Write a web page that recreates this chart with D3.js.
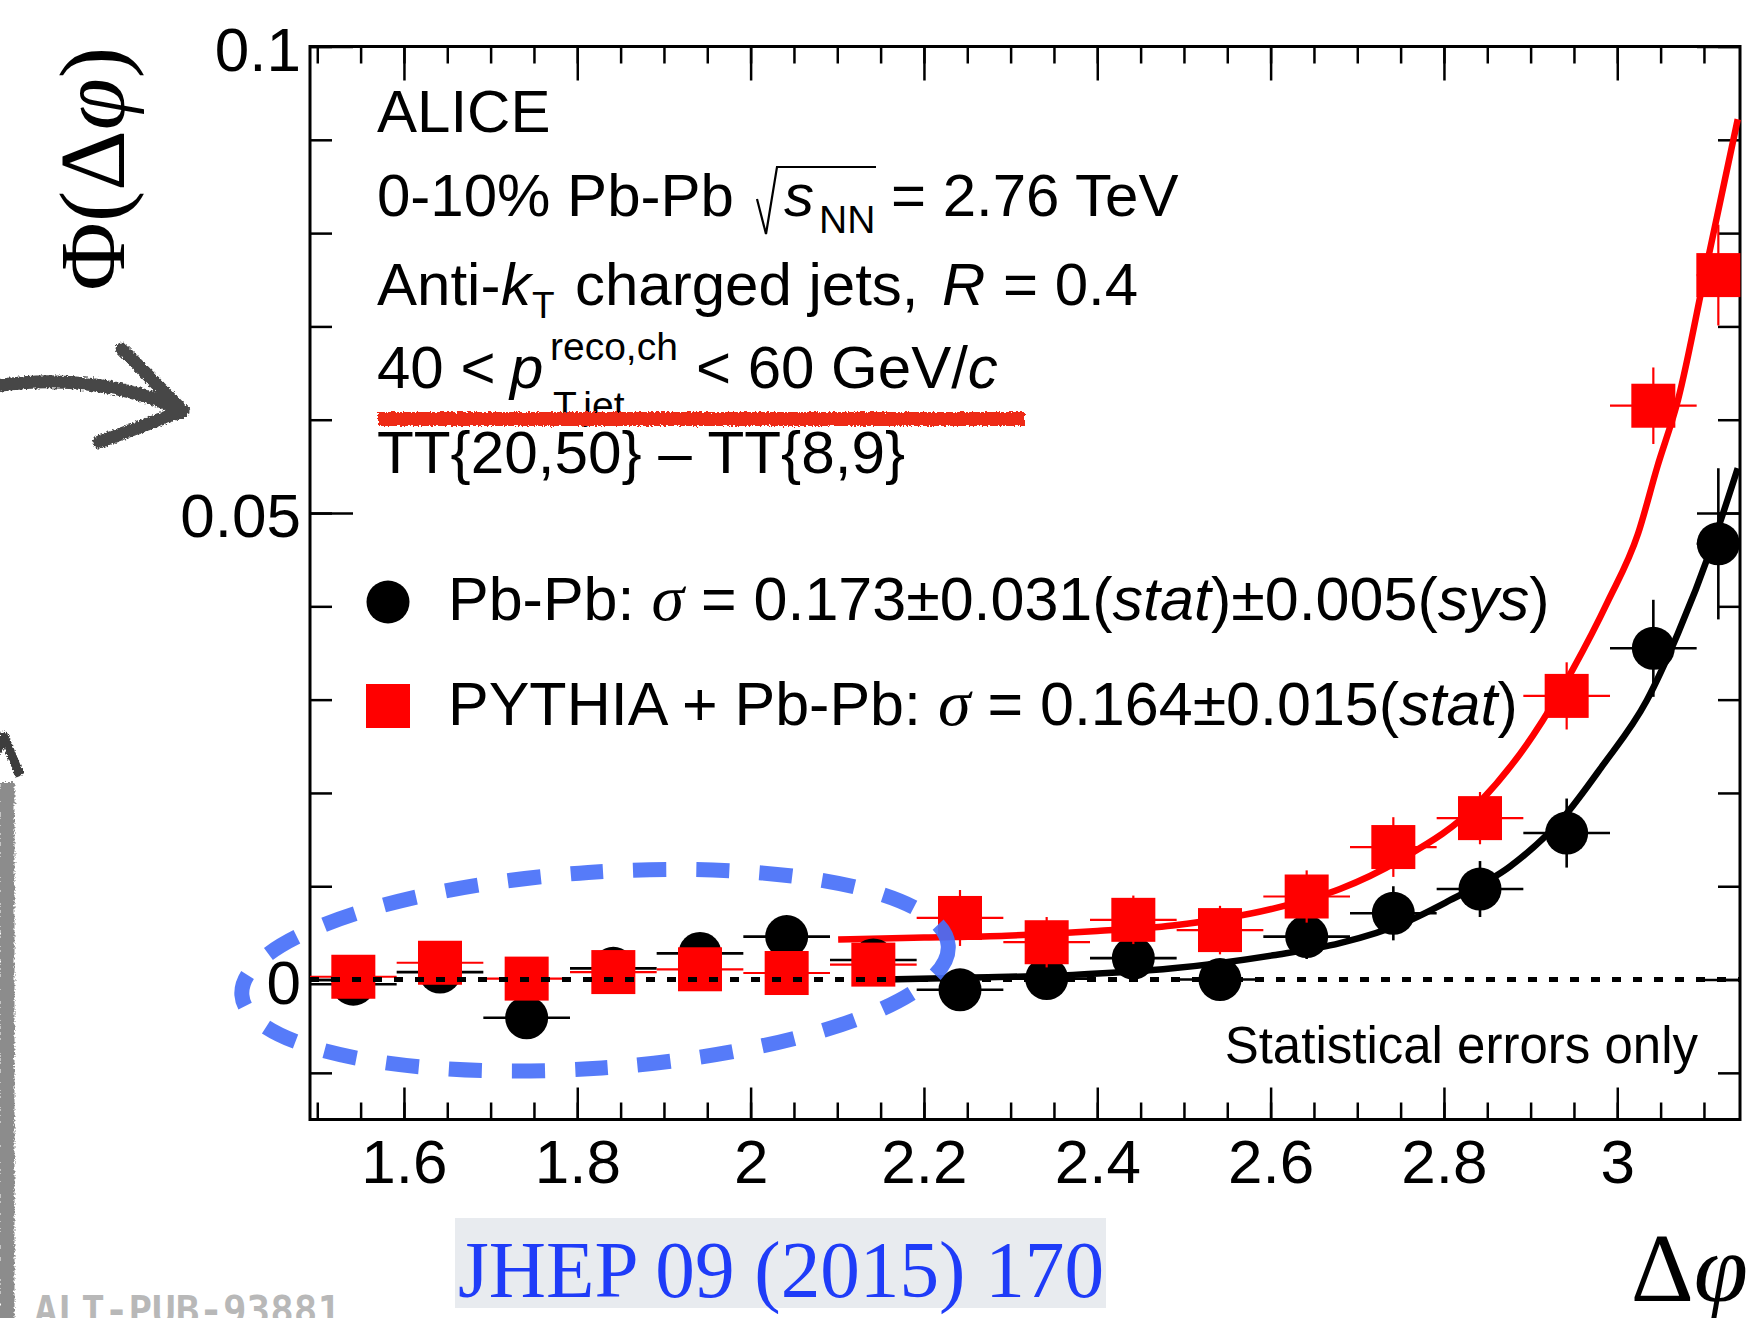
<!DOCTYPE html>
<html>
<head>
<meta charset="utf-8">
<title>Phi(dphi) ALICE</title>
<script src="https://d3js.org/d3.v7.min.js"></script>
<style>
  body { margin: 0; background: #fff; }
  svg { display: block; }
  text { white-space: pre; }
</style>
</head>
<body>
<div id="mychart"></div>
<script>

// ---- data ----
var binCenters = [1.5416, 1.6416, 1.7416, 1.8416, 1.9416, 2.0416, 2.1416, 2.2416, 2.3416,
                  2.4416, 2.5416, 2.6416, 2.7416, 2.8416, 2.9416, 3.0416, 3.1166];
var binHalfWidths = [0.05, 0.05, 0.05, 0.05, 0.05, 0.05, 0.05, 0.05, 0.05,
                     0.05, 0.05, 0.05, 0.05, 0.05, 0.05, 0.05, 0.025];

var pbpbValues = [-0.0005, 0.0008, -0.0041, 0.0012, 0.0028, 0.0046, 0.0021, -0.0011, 0.0001,
                  0.0023, 0.0000, 0.0046, 0.0071, 0.0097, 0.0157, 0.0355, 0.0467];
var pbpbErrors = [0.0019, 0.0019, 0.0020, 0.0020, 0.0021, 0.0021, 0.0021, 0.0022, 0.0022,
                  0.0022, 0.0022, 0.0024, 0.0029, 0.0030, 0.0037, 0.0052, 0.0081];

var pythiaValues = [0.0003, 0.0018, 0.0001, 0.0008, 0.0011, 0.0007, 0.0016, 0.0066, 0.0040,
                    0.0064, 0.0053, 0.0089, 0.0142, 0.0173, 0.0304, 0.0615, 0.0755];
var pythiaErrors = [0.0016, 0.0017, 0.0017, 0.0018, 0.0019, 0.0020, 0.0022, 0.0030, 0.0027,
                    0.0026, 0.0026, 0.0028, 0.0032, 0.0028, 0.0036, 0.0041, 0.0054];

// fit curves
var pbpbFitX = [2.152, 2.25, 2.372, 2.487, 2.603, 2.68, 2.757, 2.807, 2.876, 2.938, 2.982, 3.034, 3.070, 3.109, 3.139];
var pbpbFitY = [0.0000, 0.0002, 0.0005, 0.0012, 0.0026, 0.0039, 0.0062, 0.0085, 0.0121, 0.0174, 0.0228, 0.0299, 0.0371, 0.0464, 0.0548];

var pythiaFitX = [2.101, 2.20, 2.295, 2.40, 2.487, 2.603, 2.68, 2.749, 2.841, 2.903, 2.949, 2.989, 3.024, 3.046, 3.070, 3.103, 3.139];
var pythiaFitY = [0.0043, 0.0045, 0.0047, 0.0052, 0.0058, 0.0076, 0.0097, 0.0128, 0.0190, 0.0262, 0.0333, 0.0405, 0.0478, 0.0549, 0.0621, 0.0765, 0.0922];

var xMajorTicks = [1.6, 1.8, 2.0, 2.2, 2.4, 2.6, 2.8, 3.0];
var xTickLabels = ["1.6", "1.8", "2", "2.2", "2.4", "2.6", "2.8", "3"];
var xMinorTicks = [1.5, 1.55, 1.6, 1.65, 1.7, 1.75, 1.8, 1.85, 1.9, 1.95, 2.0, 2.05, 2.1, 2.15, 2.2, 2.25,
                   2.3, 2.35, 2.4, 2.45, 2.5, 2.55, 2.6, 2.65, 2.7, 2.75, 2.8, 2.85, 2.9, 2.95, 3.0, 3.05, 3.1];
var yMajorTicks = [0, 0.05, 0.1];
var yTickLabels = ["0", "0.05", "0.1"];
var yMinorTicks = [-0.01, 0, 0.01, 0.02, 0.03, 0.04, 0.05, 0.06, 0.07, 0.08, 0.09, 0.1];

// circled region (data units)
var ellipseCenter = [1.8205, 0.0010];
var ellipseRadii = [0.4085, 0.0105];

// ---- drawing ----
var width = 1751, height = 1318;
var sans = "'Liberation Sans', Arial, Helvetica, sans-serif";
var serif = "'Liberation Serif', 'Times New Roman', serif";

var svg = d3.select("#mychart").append("svg")
    .attr("width", width)
    .attr("height", height)
    .style("background", "#fff");

// rough edge for the hand drawn marks
var defs = svg.append("defs");
var rough = defs.append("filter").attr("id", "rough")
    .attr("filterUnits", "userSpaceOnUse")
    .attr("x", -50).attr("y", -50).attr("width", width + 100).attr("height", height + 100);
rough.append("feTurbulence").attr("type", "fractalNoise").attr("baseFrequency", 0.45)
    .attr("numOctaves", 2).attr("seed", 3).attr("result", "noise");
rough.append("feDisplacementMap").attr("in", "SourceGraphic").attr("in2", "noise")
    .attr("scale", 5).attr("xChannelSelector", "R").attr("yChannelSelector", "G");

var x = d3.scaleLinear().domain([1.4916, 3.1416]).range([310, 1740]);
var y = d3.scaleLinear().domain([-0.015, 0.1]).range([1119.5, 46.5]);

// hand drawn arrows on the left
var deco = svg.append("g").attr("filter", "url(#rough)");
deco.append("path")
    .attr("d", "M-5,386 C60,376 125,384 182,410")
    .attr("fill", "none").attr("stroke", "#474747").attr("stroke-width", 13)
    .attr("stroke-linecap", "round");
deco.append("path")
    .attr("d", "M122,349 L183,411 L99,442")
    .attr("fill", "none").attr("stroke", "#474747").attr("stroke-width", 13)
    .attr("stroke-linecap", "round").attr("stroke-linejoin", "round");
deco.append("path")
    .attr("d", "M7,782 L7,1330")
    .attr("fill", "none").attr("stroke", "#8c8c8c").attr("stroke-width", 15);
deco.append("path")
    .attr("d", "M-14,774 L4,736 L20,776")
    .attr("fill", "none").attr("stroke", "#3c3c3c").attr("stroke-width", 9)
    .attr("stroke-linejoin", "round");

// axes
function styleAxis(g) {
  g.select(".domain").remove();
  g.selectAll(".tick line").attr("stroke", "#000").attr("stroke-width", 2.5);
  g.attr("font-family", sans).attr("font-size", 62);
  g.selectAll(".tick text").attr("fill", "#000");
}

var gBottom = svg.append("g").attr("transform", "translate(0," + y.range()[0] + ")");
gBottom.append("g").call(d3.axisBottom(x).tickValues(xMinorTicks).tickSizeInner(-17).tickSizeOuter(0).tickFormat("")).call(styleAxis);
gBottom.append("g").call(d3.axisBottom(x).tickValues(xMajorTicks).tickSizeInner(-32).tickSizeOuter(0)
    .tickPadding(19).tickFormat(function(d, i) { return xTickLabels[i]; })).call(styleAxis);

var gTop = svg.append("g").attr("transform", "translate(0," + y.range()[1] + ")");
gTop.append("g").call(d3.axisTop(x).tickValues(xMinorTicks).tickSizeInner(-17).tickSizeOuter(0).tickFormat("")).call(styleAxis);
gTop.append("g").call(d3.axisTop(x).tickValues(xMajorTicks).tickSizeInner(-34).tickSizeOuter(0).tickFormat("")).call(styleAxis);

var gLeft = svg.append("g").attr("transform", "translate(" + x.range()[0] + ",0)");
gLeft.append("g").call(d3.axisLeft(y).tickValues(yMinorTicks).tickSizeInner(-22).tickSizeOuter(0).tickFormat("")).call(styleAxis);
gLeft.append("g").call(d3.axisLeft(y).tickValues(yMajorTicks).tickSizeInner(-43).tickSizeOuter(0)
    .tickPadding(9).tickFormat(function(d, i) { return yTickLabels[i]; })).call(styleAxis)
    .selectAll(".tick text").attr("dy", "0.38em");

var gRight = svg.append("g").attr("transform", "translate(" + x.range()[1] + ",0)");
gRight.append("g").call(d3.axisRight(y).tickValues(yMinorTicks).tickSizeInner(-22).tickSizeOuter(0).tickFormat("")).call(styleAxis);
gRight.append("g").call(d3.axisRight(y).tickValues(yMajorTicks).tickSizeInner(-43).tickSizeOuter(0).tickFormat("")).call(styleAxis);

svg.append("rect")
    .attr("x", x.range()[0]).attr("y", y.range()[1])
    .attr("width", x.range()[1] - x.range()[0]).attr("height", y.range()[0] - y.range()[1])
    .attr("fill", "none").attr("stroke", "#000").attr("stroke-width", 3);

// fit curves
var line = d3.line().curve(d3.curveMonotoneX)
    .x(function(d) { return x(d[0]); }).y(function(d) { return y(d[1]); });

svg.append("path")
    .attr("d", line(d3.zip(pbpbFitX, pbpbFitY)))
    .attr("fill", "none").attr("stroke", "#000").attr("stroke-width", 6.5);
svg.append("path")
    .attr("d", line(d3.zip(pythiaFitX, pythiaFitY)))
    .attr("fill", "none").attr("stroke", "#ff0000").attr("stroke-width", 6.5);

function drawSeries(values, errors, color, barWidth, marker) {
  var pts = binCenters.map(function(c, i) {
    return { x: c, hw: binHalfWidths[i], v: values[i], e: errors[i] };
  });
  var g = svg.append("g");
  g.selectAll(".hbar").data(pts).enter().append("line")
      .attr("x1", function(d) { return x(d.x - d.hw); })
      .attr("x2", function(d) { return x(d.x + d.hw); })
      .attr("y1", function(d) { return y(d.v); })
      .attr("y2", function(d) { return y(d.v); })
      .attr("stroke", color).attr("stroke-width", barWidth);
  g.selectAll(".vbar").data(pts).enter().append("line")
      .attr("x1", function(d) { return x(d.x); })
      .attr("x2", function(d) { return x(d.x); })
      .attr("y1", function(d) { return y(d.v - d.e); })
      .attr("y2", function(d) { return y(d.v + d.e); })
      .attr("stroke", color).attr("stroke-width", barWidth);
  if (marker === "circle") {
    g.selectAll("circle").data(pts).enter().append("circle")
        .attr("cx", function(d) { return x(d.x); })
        .attr("cy", function(d) { return y(d.v); })
        .attr("r", 21.5).attr("fill", color);
  } else {
    g.selectAll("rect").data(pts).enter().append("rect")
        .attr("x", function(d) { return x(d.x) - 22; })
        .attr("y", function(d) { return y(d.v) - 22; })
        .attr("width", 44).attr("height", 44).attr("fill", color);
  }
}

drawSeries(pbpbValues, pbpbErrors, "#000", 2.6, "circle");
drawSeries(pythiaValues, pythiaErrors, "#ff0000", 2.2, "square");

// zero line
svg.append("line")
    .attr("x1", x.range()[0]).attr("x2", x.range()[1])
    .attr("y1", y(0)).attr("y2", y(0))
    .attr("stroke", "#000").attr("stroke-width", 5).attr("stroke-dasharray", "9,12");

// text block
function addText(str, px, py, size, opts) {
  opts = opts || {};
  return svg.append("text").attr("x", px).attr("y", py)
      .attr("font-family", opts.family || sans).attr("font-size", size)
      .attr("font-style", opts.italic ? "italic" : "normal")
      .attr("fill", opts.fill || "#000")
      .attr("text-anchor", opts.anchor || "start")
      .text(str);
}

addText("ALICE", 377, 132, 60);

addText("0-10% Pb-Pb", 377, 216, 60);
svg.append("path").attr("d", "M757,199 L766,234 L777,167 L876,167")
    .attr("fill", "none").attr("stroke", "#000").attr("stroke-width", 2.2);
addText("s", 784, 216, 60, { italic: true });
addText("NN", 819, 233, 39);
addText("= 2.76 TeV", 891, 216, 60);

addText("Anti-", 377, 305, 60);
addText("k", 501, 305, 60, { italic: true });
addText("T", 532, 318, 37);
addText("charged jets,", 575, 305, 60);
addText("R", 942, 305, 60, { italic: true });
addText("= 0.4", 1003, 305, 60);

addText("40 <", 377, 388, 60);
addText("p", 510, 388, 60, { italic: true });
addText("reco,ch", 550, 360, 39);
addText("T,jet", 553, 419, 39);
var l4 = addText("< 60 GeV/", 696, 388, 60);
l4.append("tspan").attr("font-style", "italic").text("c");

addText("TT{20,50} \u2013 TT{8,9}", 377, 473, 60)
    .attr("textLength", 528).attr("lengthAdjust", "spacingAndGlyphs");

// red scribble under the kinematics line
svg.append("path").attr("d", "M378,419 L1025,419")
    .attr("fill", "none").attr("stroke", "#ee2a18").attr("stroke-width", 14)
    .attr("filter", "url(#rough)");

// legend
svg.append("circle").attr("cx", 388).attr("cy", 602).attr("r", 21.5).attr("fill", "#000");
svg.append("rect").attr("x", 366).attr("y", 684).attr("width", 44).attr("height", 44).attr("fill", "#ff0000");

function legendText(parts, py) {
  var t = svg.append("text").attr("x", 448).attr("y", py)
      .attr("font-family", sans).attr("font-size", 61).attr("fill", "#000");
  parts.forEach(function(p) {
    var s = t.append("tspan").text(p[0]);
    if (p[1] === "i") s.attr("font-style", "italic");
    if (p[1] === "g") s.attr("font-family", serif).attr("font-style", "italic").attr("font-size", 66);
  });
  return t;
}
legendText([["Pb-Pb: "], ["\u03c3", "g"], [" = 0.173\u00b10.031("], ["stat", "i"], [")\u00b10.005("], ["sys", "i"], [")"]], 620);
legendText([["PYTHIA + Pb-Pb: "], ["\u03c3", "g"], [" = 0.164\u00b10.015("], ["stat", "i"], [")"]], 725);

addText("Statistical errors only", 1698, 1063, 51, { anchor: "end" });

// axis titles
var ytitle = svg.append("text")
    .attr("transform", "translate(124,47) rotate(-90)")
    .attr("text-anchor", "end")
    .attr("font-family", serif).attr("font-size", 94).attr("fill", "#000");
ytitle.append("tspan").text("\u03a6(\u0394");
ytitle.append("tspan").attr("font-style", "italic").text("\u03c6");
ytitle.append("tspan").text(")");

var xtitle = svg.append("text").attr("x", 1748).attr("y", 1301)
    .attr("text-anchor", "end")
    .attr("font-family", serif).attr("font-size", 98).attr("fill", "#000");
xtitle.append("tspan").text("\u0394");
xtitle.append("tspan").attr("font-style", "italic").text("\u03c6");

// reference label and watermark
svg.append("rect").attr("x", 455).attr("y", 1218).attr("width", 651).attr("height", 90).attr("fill", "#e8ebef");
addText("JHEP 09 (2015) 170", 458, 1297, 80, { family: serif, fill: "#1f3cf8" })
    .attr("textLength", 646).attr("lengthAdjust", "spacingAndGlyphs");
addText("ALT-PUB-93881", 34, 1324, 39, { family: "'DejaVu Sans Mono', monospace", fill: "#b8b8b8" })
    .attr("font-weight", "bold").attr("textLength", 307).attr("lengthAdjust", "spacingAndGlyphs");

// blue dashed ellipse around the low region
var ecx = x(ellipseCenter[0]), ecy = y(ellipseCenter[1]);
svg.append("ellipse")
    .attr("cx", ecx).attr("cy", ecy)
    .attr("rx", x(ellipseCenter[0] + ellipseRadii[0]) - ecx)
    .attr("ry", ecy - y(ellipseCenter[1] + ellipseRadii[1]))
    .attr("transform", "rotate(-4," + ecx + "," + ecy + ")")
    .attr("fill", "none").attr("stroke", "#4870f8").attr("stroke-opacity", 0.92)
    .attr("stroke-width", 15).attr("stroke-dasharray", "33,30");

</script>
</body>
</html>
